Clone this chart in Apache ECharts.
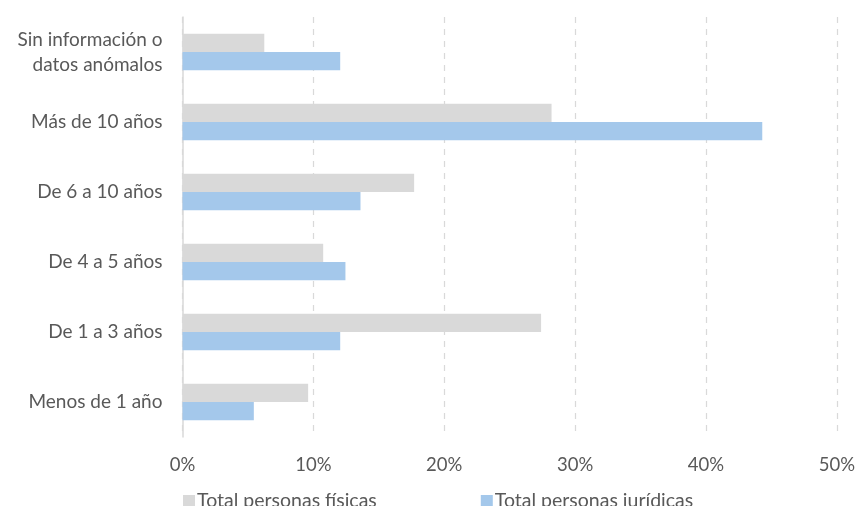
<!DOCTYPE html>
<html>
<head>
<meta charset="utf-8">
<script src="https://cdn.jsdelivr.net/npm/echarts@6/dist/echarts.min.js"></script>
<style>
  html, body { margin: 0; padding: 0; background: #fff; }
  #chart { width: 858px; height: 506px; }
</style>
</head>
<body>
<div id="chart"></div>
<script>
// categorías de abajo hacia arriba
const categories = ["Menos de 1 año", "De 1 a 3 años", "De 4 a 5 años", "De 6 a 10 años", "Más de 10 años", "Sin información o\ndatos anómalos"];
const fisicas = [9.6, 27.4, 10.75, 17.7, 28.2, 6.25];
const juridicas = [5.45, 12.05, 12.45, 13.6, 44.3, 12.05];
const xTicks = [0, 10, 20, 30, 40, 50];

const myChart = echarts.init(document.getElementById("chart"));
const font = "Lato, 'Liberation Sans', sans-serif";

const option = {
  animation: false,
  textStyle: { fontFamily: font },
  grid: { left: 182.5, right: 20.7, top: 17, bottom: 69 },
  legend: {
    top: 486,
    left: 178,
    itemGap: 104,
    itemWidth: 12,
    itemHeight: 12,
    icon: "rect",
    data: ["Total personas físicas", "Total personas jurídicas"],
    textStyle: { fontSize: 19.5, color: "#595959", fontFamily: font, padding: [0, 0, 0, -3] }
  },
  xAxis: {
    type: "value",
    min: xTicks[0],
    max: xTicks[xTicks.length - 1],
    interval: 10,
    axisLine: { show: false },
    axisTick: { show: false },
    axisLabel: { formatter: "{value}%", fontSize: 18.5, color: "#595959", margin: 19 },
    splitLine: { lineStyle: { color: "#d9d9d9", type: [6, 6], width: 1.2 } }
  },
  yAxis: {
    type: "category",
    data: categories,
    axisLine: { show: true, lineStyle: { color: "#d9d9d9", width: 1.5 } },
    axisTick: { show: false },
    axisLabel: { fontSize: 19, color: "#595959", margin: 20, lineHeight: 25, align: "right" }
  },
  series: [
    {
      name: "Total personas físicas",
      type: "bar",
      data: fisicas,
      barWidth: 18.3,
      barGap: "0%",
      itemStyle: { color: "#d9d9d9" }
    },
    {
      name: "Total personas jurídicas",
      type: "bar",
      data: juridicas,
      barWidth: 18.3,
      barGap: "0%",
      itemStyle: { color: "#a4c8eb" }
    }
  ]
};

myChart.setOption(option);
</script>
</body>
</html>
